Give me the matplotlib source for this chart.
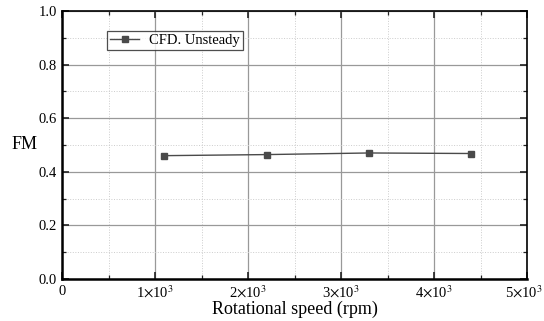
import matplotlib.pyplot as plt
from matplotlib.ticker import MultipleLocator
from matplotlib.transforms import ScaledTranslation

plt.rcParams['font.family'] = ['Liberation Serif', 'DejaVu Serif']
plt.rcParams['mathtext.fontset'] = 'stix'

rpm = [1100, 2200, 3300, 4400]
fm = [0.460, 0.464, 0.470, 0.468]
xticks = [0, 1000, 2000, 3000, 4000, 5000]
xtick_labels = ['0', r'1$\times$10$^3$', r'2$\times$10$^3$', r'3$\times$10$^3$',
                r'4$\times$10$^3$', r'5$\times$10$^3$']
yticks = [0.0, 0.2, 0.4, 0.6, 0.8, 1.0]

fig = plt.figure(figsize=(5.44, 3.21), dpi=100)
ax = fig.add_axes([0.114, 0.131, 0.855, 0.835])

ax.plot(rpm, fm, color='#4a4a4a', lw=1.0, marker='s', ms=5,
        mfc='#4a4a4a', mec='#4a4a4a', label='CFD. Unsteady', zorder=3)

ax.set_xlim(0, 5000)
ax.set_ylim(0, 1.0)
ax.set_xticks(xticks, xtick_labels)
ax.set_yticks(yticks, [f'{v:.1f}' for v in yticks])
ax.xaxis.set_minor_locator(MultipleLocator(500))
ax.yaxis.set_minor_locator(MultipleLocator(0.1))

ax.grid(which='major', color='#999999', lw=0.9)
ax.grid(which='minor', color='#cccccc', lw=0.7, ls=':')
ax.set_axisbelow(True)

ax.tick_params(which='both', direction='in', top=True, right=True, labelsize=10.5,
               color='#222222')
ax.tick_params(which='major', length=5, width=1.2)
ax.tick_params(which='minor', length=3, width=0.9)
ax.tick_params(axis='x', pad=4)
for side in ['left', 'bottom']:
    ax.spines[side].set_linewidth(1.8)
for side in ['top', 'right']:
    ax.spines[side].set_linewidth(1.2)

# keep the last x label inside the figure
last = ax.get_xticklabels()[-1]
last.set_transform(last.get_transform() + ScaledTranslation(-3 / 100, 0, fig.dpi_scale_trans))

ax.set_xlabel('Rotational speed (rpm)', fontsize=13, labelpad=0)
ax.set_ylabel('FM', fontsize=13, rotation=0, labelpad=10, va='center')

leg = ax.legend(loc='upper left', bbox_to_anchor=(0.097, 0.925), fontsize=10.5,
                frameon=True, fancybox=False, edgecolor='#222222',
                handlelength=2.0, handletextpad=0.7, borderpad=0.2,
                borderaxespad=0)
leg.get_frame().set_linewidth(0.9)

fig.savefig('out.png', dpi=100)
